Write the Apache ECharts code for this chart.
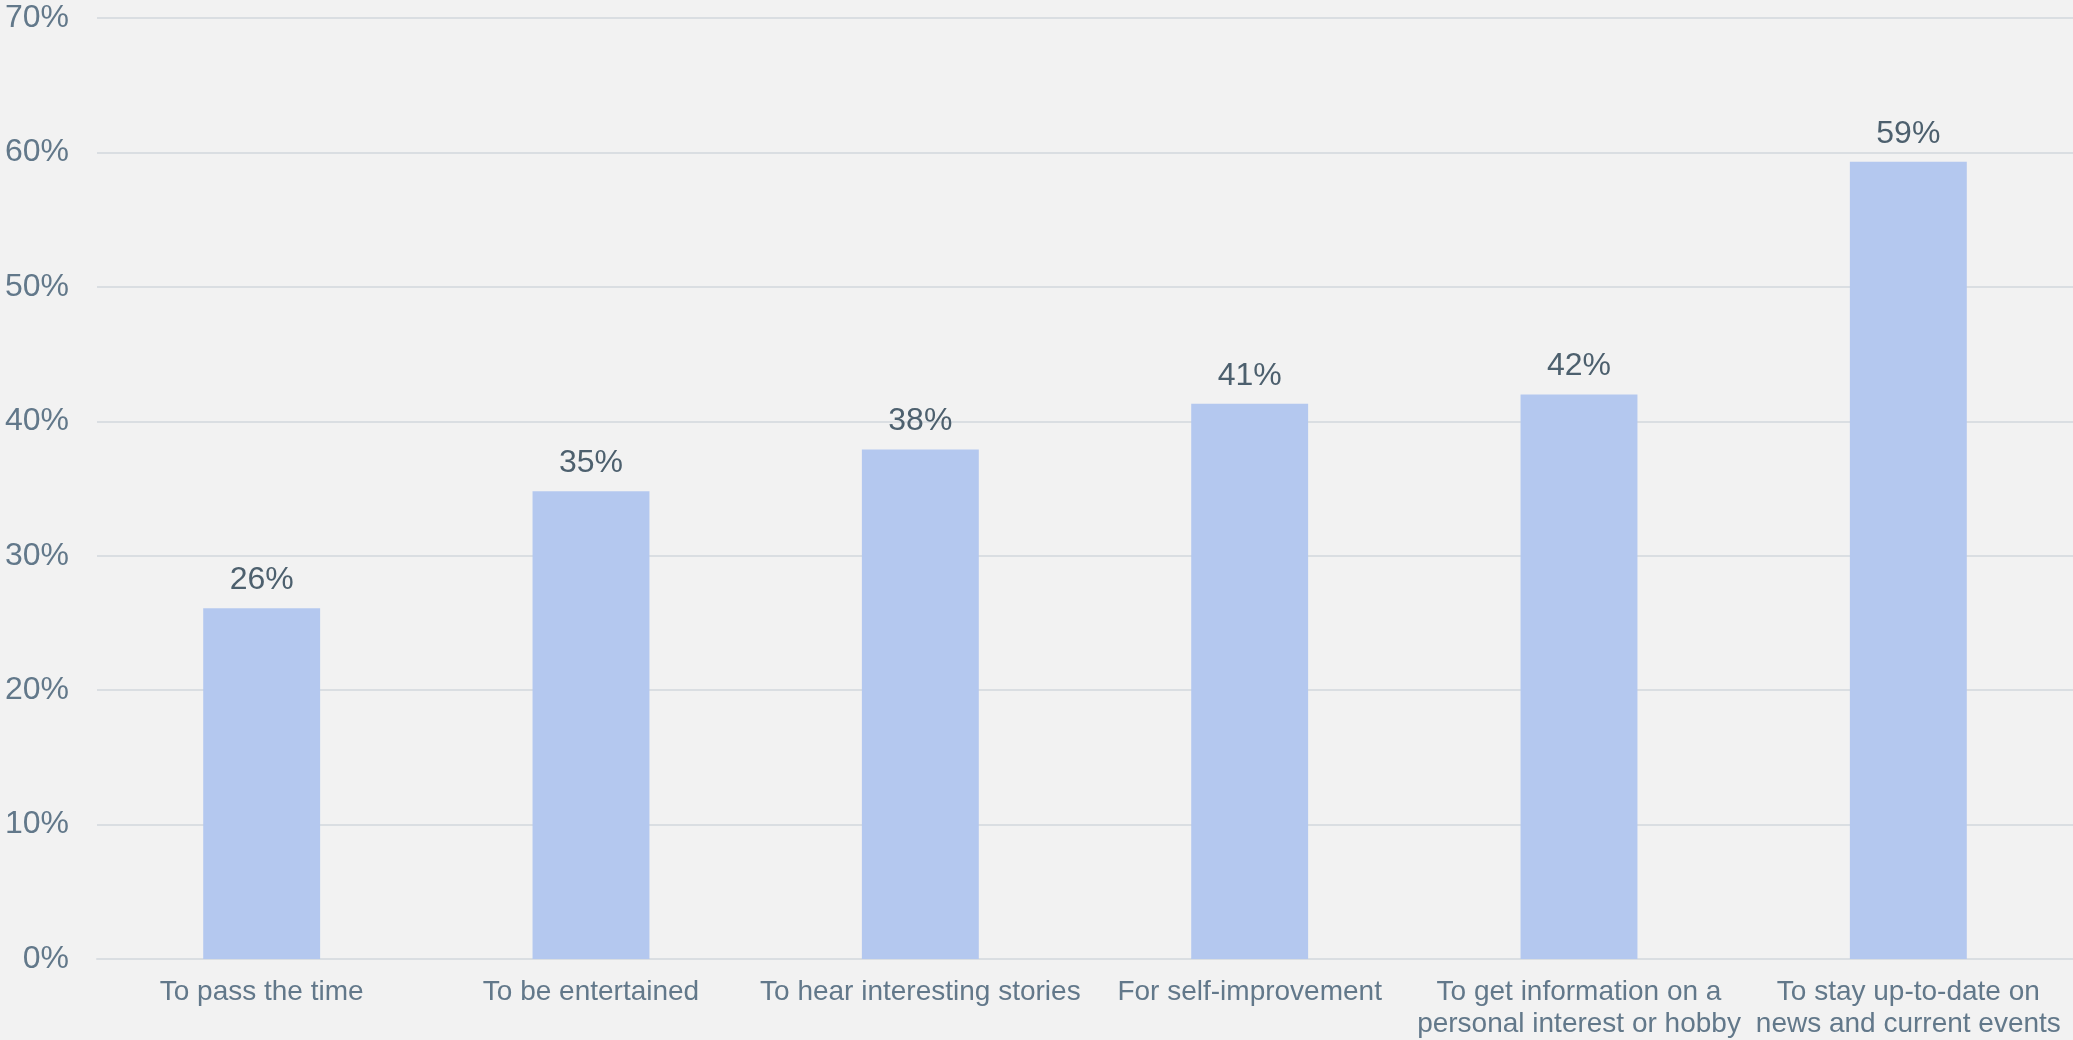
<!DOCTYPE html>
<html>
<head>
<meta charset="utf-8">
<script src="https://cdn.jsdelivr.net/npm/echarts@6/dist/echarts.min.js"></script>
<style>
	html, body { margin: 0; padding: 0; background: #f2f2f2; }
	#echart { width: 2073px; height: 1040px; }
</style>
</head>
<body>
<div id="echart"></div>
<script>
	'use strict'

	/*-----data-----*/
	var categories = [
		'To pass the time',
		'To be entertained',
		'To hear interesting stories',
		'For self-improvement',
		'To get information on a\npersonal interest or hobby',
		'To stay up-to-date on\nnews and current events'
	];
	var values = [26.1, 34.8, 37.9, 41.3, 42.0, 59.3];
	var yTicks = [0, 10, 20, 30, 40, 50, 60, 70];

	/*-----Barchart-----*/
	var chart = document.getElementById('echart');
	var barChart = echarts.init(chart);
	var option = {
		backgroundColor: '#f2f2f2',
		animation: false,
		grid: {
			top: 18,
			right: 0,
			bottom: 81,
			left: 97,
			containLabel: false
		},
		xAxis: {
			type: 'category',
			data: categories,
			axisTick: { show: false },
			axisLine: {
				lineStyle: { color: '#dadee2', width: 2 }
			},
			axisLabel: {
				interval: 0,
				margin: 17,
				fontSize: 28,
				lineHeight: 32,
				fontFamily: 'Liberation Sans, Arial, sans-serif',
				color: '#62788a'
			}
		},
		yAxis: {
			type: 'value',
			min: yTicks[0],
			max: yTicks[yTicks.length - 1],
			interval: 10,
			axisLine: { show: false },
			axisTick: { show: false },
			splitLine: {
				lineStyle: { color: '#dadee2', width: 2 }
			},
			axisLabel: {
				margin: 28,
				fontSize: 32,
				fontFamily: 'Liberation Sans, Arial, sans-serif',
				color: '#62788a',
				formatter: '{value}%'
			}
		},
		series: [{
			type: 'bar',
			data: values,
			barWidth: '35.5%',
			itemStyle: { color: '#b4c8ef' },
			label: {
				show: true,
				position: 'top',
				distance: 12,
				fontSize: 32,
				fontFamily: 'Liberation Sans, Arial, sans-serif',
				color: '#4d606e',
				formatter: function(p) {
					return Math.round(p.value) + '%';
				}
			}
		}]
	};
	barChart.setOption(option);
</script>
</body>
</html>
